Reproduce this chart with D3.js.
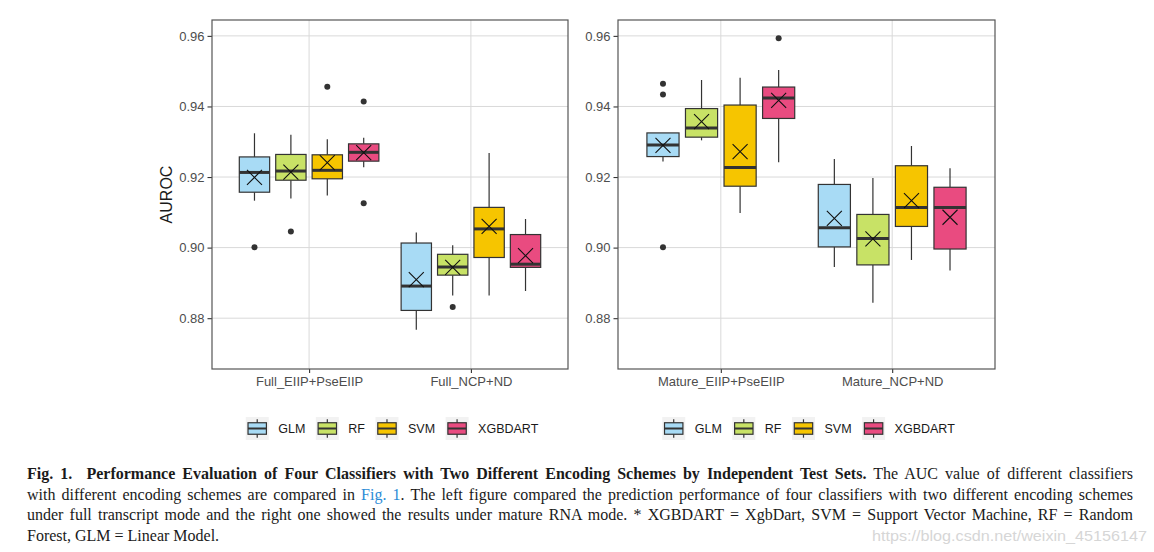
<!DOCTYPE html>
<html>
<head>
<meta charset="utf-8">
<script src="https://cdn.jsdelivr.net/npm/d3@7"></script>
<style>
  html, body { margin: 0; padding: 0; background: #fff; }
  svg { display: block; }
</style>
</head>
<body>
<svg id="chart" width="1154" height="552"></svg>
<script>
// ---------------- DATA ----------------
const classifiers = ["GLM", "RF", "SVM", "XGBDART"];
const categoriesFull = ["Full_EIIP+PseEIIP", "Full_NCP+ND"];
const categoriesMature = ["Mature_EIIP+PseEIIP", "Mature_NCP+ND"];
const yTicks = [0.88, 0.90, 0.92, 0.94, 0.96];
const yLabel = "AUROC";

// box stats per classifier: [lower whisker, Q1, median, Q3, upper whisker]
const fullEiipStats = [
  [0.9133, 0.9157, 0.9213, 0.9257, 0.9324],
  [0.9139, 0.9191, 0.9217, 0.9264, 0.9320],
  [0.9148, 0.9195, 0.9219, 0.9263, 0.9307],
  [0.9228, 0.9245, 0.9270, 0.9294, 0.9311]
];
const fullEiipMeans = [0.9199, 0.9214, 0.9241, 0.9269];
const fullEiipOutliers = [[0.9001], [0.9046], [0.9456], [0.9414, 0.9126]];

const fullNcpStats = [
  [0.8767, 0.8822, 0.8891, 0.9013, 0.9043],
  [0.8864, 0.8922, 0.8945, 0.8981, 0.9007],
  [0.8864, 0.8972, 0.9053, 0.9114, 0.9268],
  [0.8877, 0.8944, 0.8953, 0.9037, 0.9081]
];
const fullNcpMeans = [0.8909, 0.8944, 0.9060, 0.8977];
const fullNcpOutliers = [[], [0.8832], [], []];

const matureEiipStats = [
  [0.9244, 0.9258, 0.9291, 0.9325, 0.9325],
  [0.9304, 0.9313, 0.9339, 0.9394, 0.9475],
  [0.9098, 0.9174, 0.9227, 0.9404, 0.9481],
  [0.9242, 0.9366, 0.9424, 0.9455, 0.9503]
];
const matureEiipMeans = [0.9290, 0.9357, 0.9272, 0.9417];
const matureEiipOutliers = [[0.9464, 0.9434, 0.9001], [], [], [0.9593]];

const matureNcpStats = [
  [0.8945, 0.9002, 0.9056, 0.9179, 0.9251],
  [0.8844, 0.8951, 0.9026, 0.9094, 0.9197],
  [0.8965, 0.9060, 0.9114, 0.9232, 0.9288],
  [0.8935, 0.8996, 0.9114, 0.9171, 0.9225]
];
const matureNcpMeans = [0.9083, 0.9025, 0.9133, 0.9086];
const matureNcpOutliers = [[], [], [], []];

const captionLines = [
  [{t: "Fig. 1.  Performance Evaluation of Four Classifiers with Two Different Encoding Schemes by Independent Test Sets.", b: true},
   {t: " The AUC value of different classifiers"}],
  [{t: "with different encoding schemes are compared in "}, {t: "Fig. 1", link: true},
   {t: ". The left figure compared the prediction performance of four classifiers with two different encoding schemes"}],
  [{t: "under full transcript mode and the right one showed the results under mature RNA mode. * XGBDART = XgbDart, SVM = Support Vector Machine, RF = Random"}],
  [{t: "Forest, GLM = Linear Model."}]
];
const watermark = "https://blog.csdn.net/weixin_45156147";

// ---------------- STYLE ----------------
const colors = ["#a8dbf5", "#c8e266", "#f6c500", "#e94b80"];
const ink = "#333333";
const sans = "'Liberation Sans', Arial, Helvetica, sans-serif";
const serif = "'Liberation Serif', 'Times New Roman', serif";

const svg = d3.select("#chart");
svg.append("rect").attr("width", 1154).attr("height", 552).attr("fill", "#fff");

const panelTop = 20, panelBottom = 369;
const y = d3.scaleLinear().domain([0.8656, 0.9645]).range([panelBottom, panelTop]);
const color = d3.scaleOrdinal().domain(classifiers).range(colors);

const panels = [
  {left: 212, right: 568, cats: categoriesFull,
   stats: [fullEiipStats, fullNcpStats], means: [fullEiipMeans, fullNcpMeans], outs: [fullEiipOutliers, fullNcpOutliers]},
  {left: 618, right: 995, cats: categoriesMature,
   stats: [matureEiipStats, matureNcpStats], means: [matureEiipMeans, matureNcpMeans], outs: [matureEiipOutliers, matureNcpOutliers]}
];

panels.forEach((p, pi) => {
  const g = svg.append("g");
  const x = d3.scalePoint().domain(p.cats).range([p.left, p.right]).padding(0.6);
  const step = x.step();
  const inner = d3.scaleBand().domain(classifiers).range([-0.45 * step, 0.45 * step]);
  const bw = inner.bandwidth() * (0.75 / 0.9);

  // grid
  g.selectAll(".gy").data(yTicks).join("line")
    .attr("x1", p.left).attr("x2", p.right)
    .attr("y1", d => y(d)).attr("y2", d => y(d))
    .attr("stroke", "#d9d9d9").attr("stroke-width", 1);
  g.selectAll(".gx").data(p.cats).join("line")
    .attr("x1", d => x(d)).attr("x2", d => x(d))
    .attr("y1", panelTop).attr("y2", panelBottom)
    .attr("stroke", "#d9d9d9").attr("stroke-width", 1);

  // axes
  const ay = g.append("g").attr("transform", `translate(${p.left},0)`)
    .call(d3.axisLeft(y).tickValues(yTicks).tickSize(4.5).tickPadding(3).tickFormat(d3.format(".2f")));
  const ax = g.append("g").attr("transform", `translate(0,${panelBottom})`)
    .call(d3.axisBottom(x).tickSize(4).tickPadding(4));
  [ay, ax].forEach(a => {
    a.select(".domain").remove();
    a.selectAll(".tick line").attr("stroke", ink).attr("stroke-width", 1.1);
    a.selectAll(".tick text").attr("fill", "#4d4d4d").style("font-family", sans).style("font-size", "13px");
  });

  // boxes
  p.cats.forEach((cat, ci) => {
    classifiers.forEach((k, ki) => {
      const s = p.stats[ci][ki];
      const cx = x(cat) + inner(k) + inner.bandwidth() / 2;
      const bg = g.append("g");
      bg.append("line").attr("x1", cx).attr("x2", cx).attr("y1", y(s[0])).attr("y2", y(s[1]))
        .attr("stroke", ink).attr("stroke-width", 1.2);
      bg.append("line").attr("x1", cx).attr("x2", cx).attr("y1", y(s[3])).attr("y2", y(s[4]))
        .attr("stroke", ink).attr("stroke-width", 1.2);
      bg.append("rect").attr("x", cx - bw / 2).attr("width", bw)
        .attr("y", y(s[3])).attr("height", y(s[1]) - y(s[3]))
        .attr("fill", color(k)).attr("stroke", ink).attr("stroke-width", 1.2);
      bg.append("line").attr("x1", cx - bw / 2).attr("x2", cx + bw / 2)
        .attr("y1", y(s[2])).attr("y2", y(s[2]))
        .attr("stroke", ink).attr("stroke-width", 3);
      bg.selectAll("circle").data(p.outs[ci][ki]).join("circle")
        .attr("cx", cx).attr("cy", d => y(d)).attr("r", 3).attr("fill", ink);
      const my = y(p.means[ci][ki]), hs = 7.5;
      bg.append("path")
        .attr("d", `M${cx - hs},${my - hs}L${cx + hs},${my + hs}M${cx - hs},${my + hs}L${cx + hs},${my - hs}`)
        .attr("stroke", "#111").attr("stroke-width", 1.1).attr("fill", "none");
    });
  });

  // border
  g.append("rect").attr("x", p.left).attr("y", panelTop)
    .attr("width", p.right - p.left).attr("height", panelBottom - panelTop)
    .attr("fill", "none").attr("stroke", "#555").attr("stroke-width", 1.2);

  // legend
  const lg = svg.append("g");
  const ks = 23, keyTop = 417, gapText = 9.5, gapItem = 10.5;
  const items = classifiers.map(k => {
    const ig = lg.append("g");
    ig.append("rect").attr("width", ks).attr("height", ks).attr("y", keyTop).attr("fill", "#f2f2f2");
    ig.append("line").attr("x1", ks / 2).attr("x2", ks / 2).attr("y1", keyTop + ks * 0.1).attr("y2", keyTop + ks * 0.9)
      .attr("stroke", ink).attr("stroke-width", 1.2);
    ig.append("rect").attr("x", ks * 0.1).attr("width", ks * 0.8).attr("y", keyTop + ks * 0.25).attr("height", ks * 0.5)
      .attr("fill", color(k)).attr("stroke", ink).attr("stroke-width", 1.2);
    ig.append("line").attr("x1", ks * 0.1).attr("x2", ks * 0.9).attr("y1", keyTop + ks / 2).attr("y2", keyTop + ks / 2)
      .attr("stroke", ink).attr("stroke-width", 2);
    const t = ig.append("text").attr("x", ks + gapText).attr("y", keyTop + ks / 2).attr("dy", "0.36em")
      .style("font-family", sans).style("font-size", "12.5px").attr("fill", "#1a1a1a").text(k);
    return {ig, w: ks + gapText + t.node().getComputedTextLength()};
  });
  const total = d3.sum(items, d => d.w) + gapItem * (items.length - 1);
  let cx0 = (p.left + p.right) / 2 + 2 - total / 2;
  items.forEach(it => { it.ig.attr("transform", `translate(${cx0},0)`); cx0 += it.w + gapItem; });
});

// y label
svg.append("text").attr("transform", `translate(172,${(panelTop + panelBottom) / 2}) rotate(-90)`)
  .attr("text-anchor", "middle")
  .style("font-family", sans).style("font-size", "16px").attr("fill", "#1a1a1a").text(yLabel);

// caption
const capLeft = 27, capRight = 1133, capBase = 479, capLead = 20.7;
captionLines.forEach((line, li) => {
  const t = svg.append("text").attr("x", capLeft).attr("y", capBase + li * capLead)
    .style("font-family", serif).style("font-size", "16px").attr("fill", "#1a1a1a")
    .attr("xml:space", "preserve").style("white-space", "pre");
  line.forEach(seg => {
    const ts = t.append("tspan").text(seg.t);
    if (seg.b) ts.style("font-weight", "bold");
    if (seg.link) ts.attr("fill", "#2b8bd6");
  });
  if (li < captionLines.length - 1) {
    const nat = t.node().getComputedTextLength();
    const spaces = line.map(s => s.t).join("").split(" ").length - 1;
    const ws = (capRight - capLeft - nat) / spaces;
    t.attr("word-spacing", ws).style("word-spacing", ws + "px");
  }
});

svg.append("text").attr("x", 872).attr("y", 541)
  .attr("textLength", 275).attr("lengthAdjust", "spacingAndGlyphs")
  .style("font-family", sans).style("font-size", "15px").attr("fill", "#d6d6d6").text(watermark);
</script>
</body>
</html>
